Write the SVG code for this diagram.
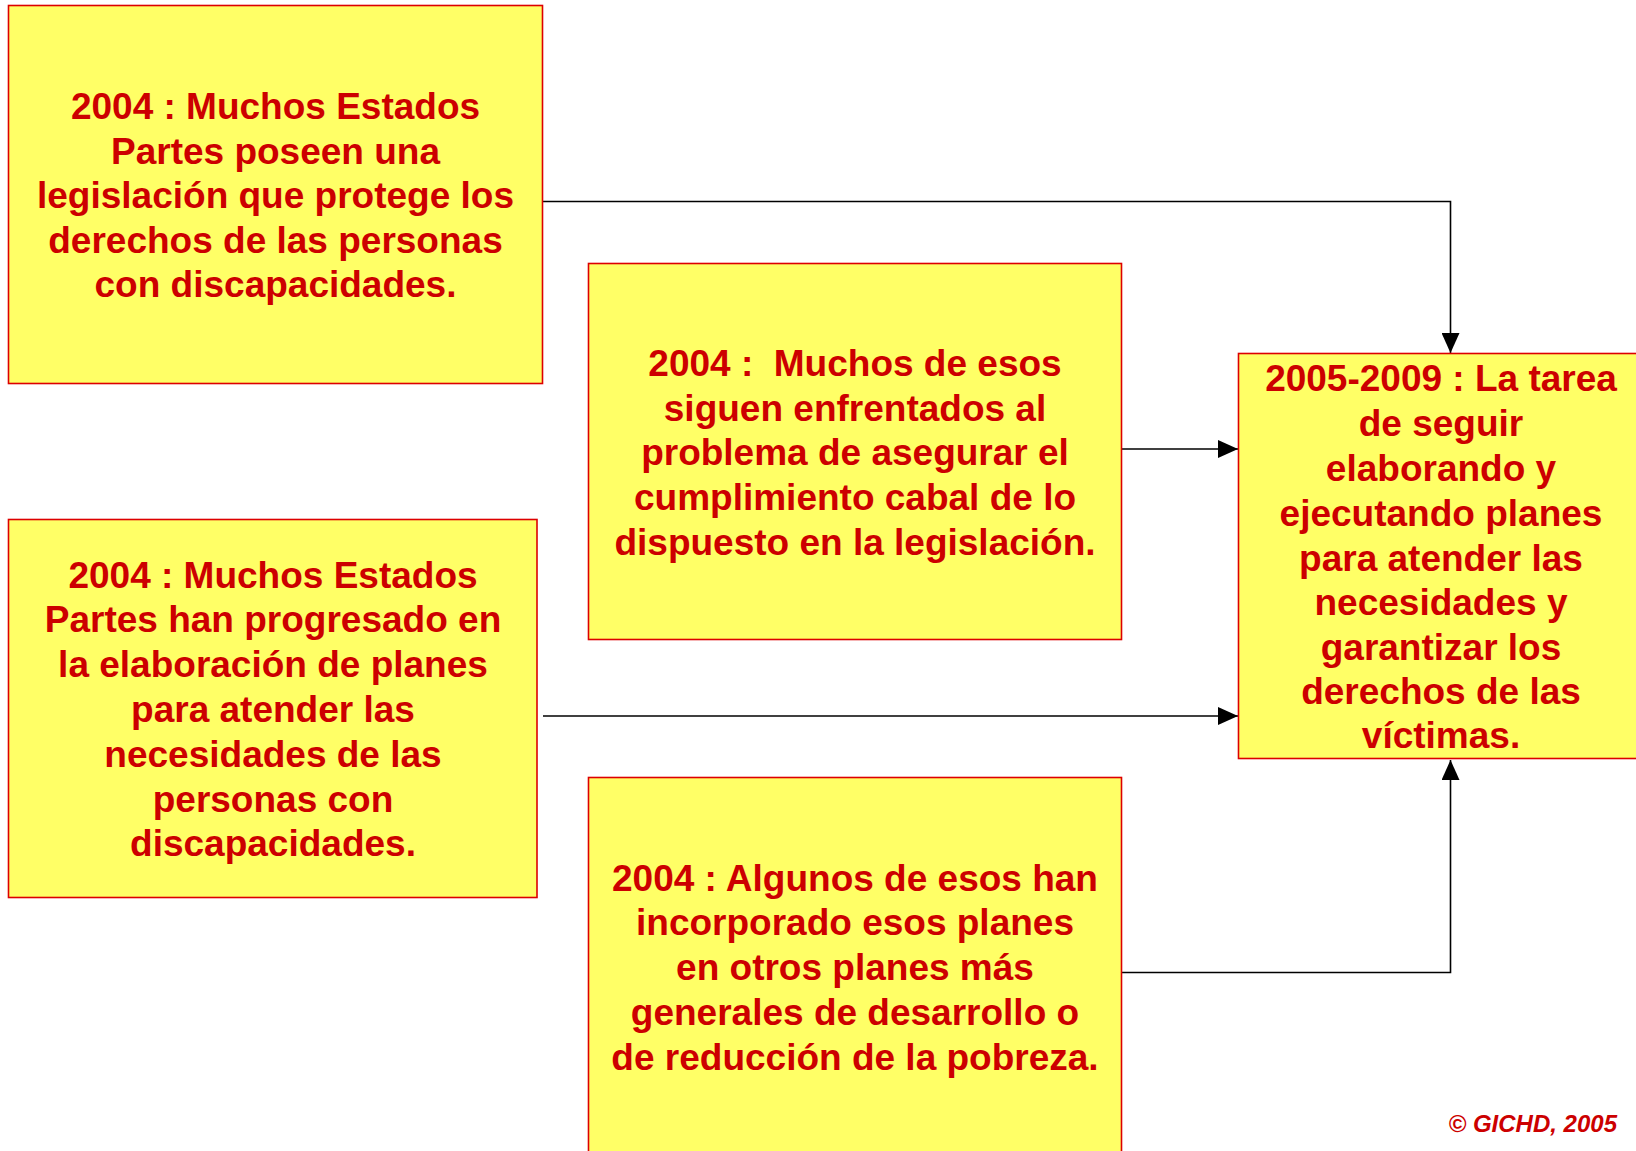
<svg xmlns="http://www.w3.org/2000/svg" width="1636" height="1151" viewBox="0 0 1636 1151">
<defs>
<style>
.box{fill:#FFFF66;stroke:#DD0000;stroke-width:1.6}
.t{font-family:"Liberation Sans",Arial,sans-serif;font-weight:bold;font-size:37px;fill:#CC0000;text-anchor:middle}
.c{fill:none;stroke:#000;stroke-width:1.6}
.copy{font-family:"Liberation Sans",Arial,sans-serif;font-weight:bold;font-style:italic;font-size:24px;fill:#CC0000;text-anchor:end}
</style>
<marker id="ah" markerWidth="20" markerHeight="18" refX="20" refY="9" orient="auto" markerUnits="userSpaceOnUse">
<path d="M0,0 L20,9 L0,18 Z" fill="#000"/>
</marker>
</defs>
<rect width="1636" height="1151" fill="#fff"/>
<g id="connectors">
<path class="c" d="M543,201.5 H1450.5 V353" marker-end="url(#ah)"/>
<path class="c" d="M1117,449 H1238" marker-end="url(#ah)"/>
<path class="c" d="M543,716 H1238" marker-end="url(#ah)"/>
<path class="c" d="M1122,972.5 H1450.5 V760" marker-end="url(#ah)"/>
</g>
<g id="node1">
<rect class="box" x="8.5" y="5.5" width="534" height="378"/>
<text class="t"><tspan x="275.5" y="119">2004 : Muchos Estados</tspan><tspan x="275.5" y="163.6">Partes poseen una</tspan><tspan x="275.5" y="208.2">legislación que protege los</tspan><tspan x="275.5" y="252.8">derechos de las personas</tspan><tspan x="275.5" y="297.4">con discapacidades.</tspan></text>
</g>
<g id="node2">
<rect class="box" x="588.5" y="263.5" width="533" height="376"/>
<text class="t"><tspan x="855" y="375.7">2004 :&#160; Muchos de esos</tspan><tspan x="855" y="420.5">siguen enfrentados al</tspan><tspan x="855" y="465.4">problema de asegurar el</tspan><tspan x="855" y="510.3">cumplimiento cabal de lo</tspan><tspan x="855" y="555">dispuesto en la legislación.</tspan></text>
</g>
<g id="node3">
<rect class="box" x="1238.5" y="353.5" width="405" height="405"/>
<text class="t"><tspan x="1441" y="391.3">2005-2009 : La tarea</tspan><tspan x="1441" y="436.2">de seguir</tspan><tspan x="1441" y="481">elaborando y</tspan><tspan x="1441" y="525.9">ejecutando planes</tspan><tspan x="1441" y="570.8">para atender las</tspan><tspan x="1441" y="614.6">necesidades y</tspan><tspan x="1441" y="659.5">garantizar los</tspan><tspan x="1441" y="704.3">derechos de las</tspan><tspan x="1441" y="748.2">víctimas.</tspan></text>
</g>
<g id="node4">
<rect class="box" x="8.5" y="519.5" width="528.5" height="378"/>
<text class="t"><tspan x="273" y="587.5">2004 : Muchos Estados</tspan><tspan x="273" y="632.3">Partes han progresado en</tspan><tspan x="273" y="677.2">la elaboración de planes</tspan><tspan x="273" y="722">para atender las</tspan><tspan x="273" y="766.9">necesidades de las</tspan><tspan x="273" y="811.8">personas con</tspan><tspan x="273" y="855.6">discapacidades.</tspan></text>
</g>
<g id="node5">
<rect class="box" x="588.5" y="777.5" width="533" height="400"/>
<text class="t"><tspan x="855" y="891">2004 : Algunos de esos han</tspan><tspan x="855" y="935">incorporado esos planes</tspan><tspan x="855" y="979.8">en otros planes más</tspan><tspan x="855" y="1024.7">generales de desarrollo o</tspan><tspan x="855" y="1069.5">de reducción de la pobreza.</tspan></text>
</g>
<text class="copy" x="1617" y="1132">© GICHD, 2005</text>
</svg>
